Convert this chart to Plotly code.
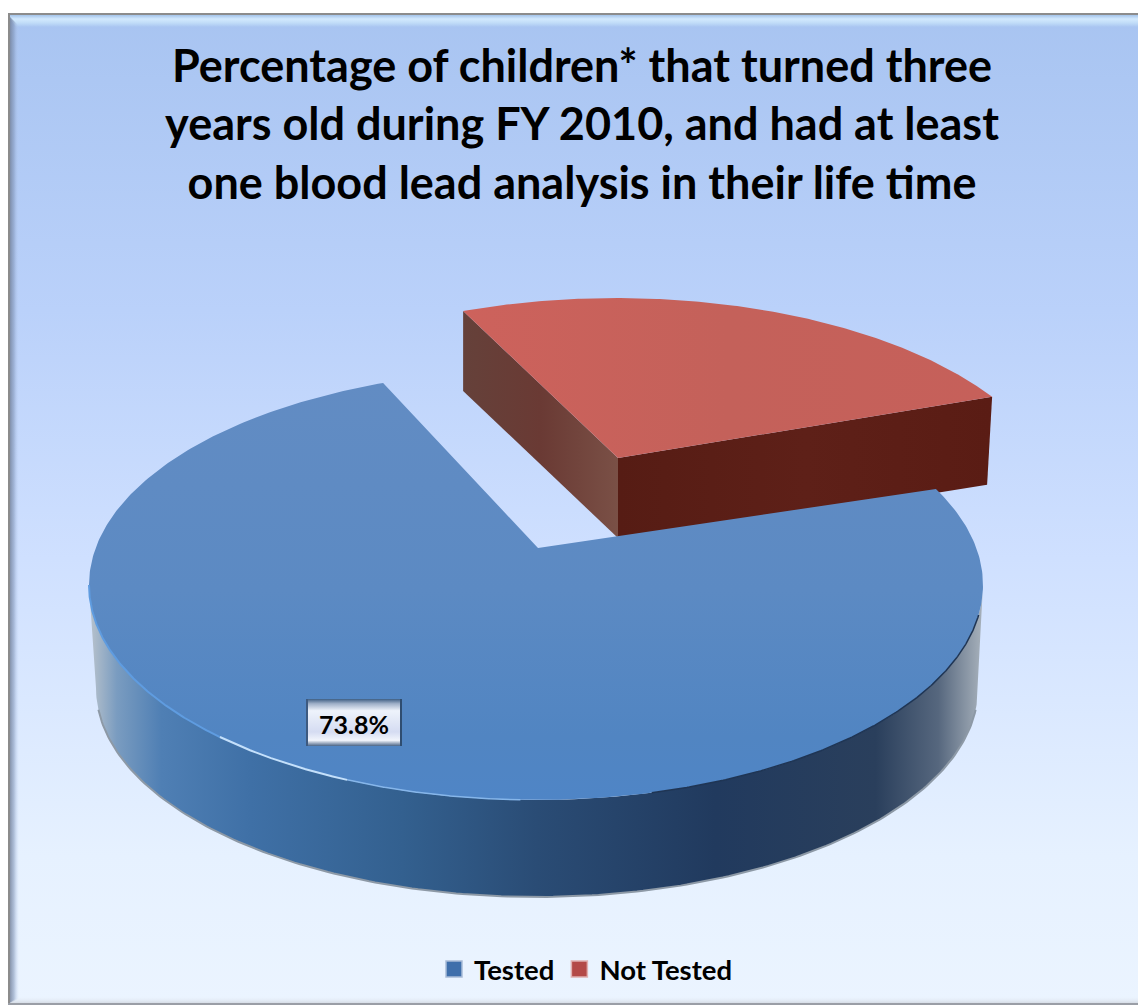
import numpy as np
import plotly.graph_objects as go

categories = ["Tested", "Not Tested"]
values = [73.8, 26.2]
title_lines = ["Percentage of children* that turned three",
               "years old during FY 2010, and had at least",
               "one blood lead analysis in their life time"]

W, H = 1146, 1005
PAGE_MARGIN = 8                     # the page's own body margin
FONT = "Lato"
START_DEG = 110.0
SWEEP_PER_PCT = [3.747, 2.95]       # the projected disc stretches each slice's sweep


def arc(cx, cy, rx, ry, a0, a1, n=200):
    t = np.radians(np.linspace(a0, a1, n))
    return cx + rx * np.cos(t), cy - ry * np.sin(t)


def grad(kind, stops, start, stop):
    n = len(stops) - 1
    cs = [[p, c] for p, c in stops] if isinstance(stops[0], (list, tuple)) else [[i / n, c] for i, c in enumerate(stops)]
    return dict(type=kind, colorscale=cs, start=start, stop=stop)


fig = go.Figure()


def poly(x, y, fillgradient=None, fillcolor=None):
    x = list(x) + [x[0]]
    y = list(y) + [y[0]]
    kw = dict(fillgradient=fillgradient) if fillgradient else dict(fillcolor=fillcolor)
    fig.add_trace(go.Scatter(x=x, y=y, mode="lines", fill="toself", line=dict(width=0),
                             hoverinfo="skip", showlegend=False, **kw))


def stroke(x, y, color, width):
    fig.add_trace(go.Scatter(x=x, y=y, mode="lines", line=dict(color=color, width=width),
                             hoverinfo="skip", showlegend=False))


# chart panel (axes start at the page margin; the frame's left/top edges lie under it)
L, T, R, B = 8, 13, W + 2, 1004
poly([L, R, R, L], [T, T, B, B],
     fillgradient=grad("vertical", [[0, "#a8c4f1"], [0.3, "#bad1fa"], [0.55, "#cfe0ff"], [0.85, "#e6f1ff"], [1, "#ebf4ff"]], T, B))
# bevels
poly([L, R, R, L + 8], [T + 2, T + 2, T + 14, T + 14],
     fillgradient=grad("vertical", ["#a4c4ea", "#d2e9fe", "#c0dcf8", "#a9c5f1"], T + 2, T + 14))
poly([L, L + 12, L + 12, L], [T + 2, T + 14, B - 6, B],
     fillgradient=grad("horizontal", ["rgba(112,124,146,0.9)", "rgba(130,150,185,0.55)", "rgba(190,210,245,0)"], L + 1, L + 11))
poly([L, R, R, L + 12], [B, B, B - 8, B - 8],
     fillgradient=grad("vertical", ["rgba(235,244,255,0)", "rgba(205,210,218,0.9)"], B - 8, B))
stroke([L, R], [T + 1, T + 1], "#8c8c8c", 2)
stroke([L + 1, L + 1], [T, B], "#8c8c8c", 2)
stroke([L, R], [B, B], "#9a9ea6", 2)

# Not Tested slice (behind)
rcx, rcy, rax, ray = 616, 513, 447, 215
r_end = START_DEG - values[1] * SWEEP_PER_PCT[1]
rapx, rapy = 618, 458
rx0, ry0 = arc(rcx, rcy, rax, ray, START_DEG, START_DEG, 1)
rx1, ry1 = arc(rcx, rcy, rax, ray, r_end, r_end, 1)
poly([rx0[0], rapx, rapx, rx0[0]], [ry0[0], rapy, rapy + 80, ry0[0] + 80],
     fillgradient=grad("horizontal", ["#65413a", "#6a3a34", "#7a5046"], rx0[0], rapx))
poly([rapx, rx1[0], rx1[0] - 5, rapx], [rapy, ry1[0], ry1[0] + 88, rapy + 86],
     fillgradient=grad("horizontal", ["#561c14", "#5e2018", "#5a1c14"], rapx, rx1[0]))
ax, ay = arc(rcx, rcy, rax, ray, START_DEG, r_end)
poly([rapx] + list(ax), [rapy] + list(ay),
     fillgradient=grad("horizontal", ["#cd625c", "#c4615a", "#c6605a"], rx0[0], rx1[0]))

# Tested slice
bcx, bcy, bax, bay = 536, 585, 447, 215
dcx, dcy, dax, day = 537, 688, 441, 209
apx, apy = 538, 548
b_end = START_DEG + values[0] * SWEEP_PER_PCT[0]
tx, ty = arc(bcx, bcy, bax, bay, 180, 360)
ux, uy = arc(dcx, dcy, dax, day, 360, 180)
poly(list(tx) + list(ux), list(ty) + list(uy),
     fillgradient=grad("horizontal",
                       [[0, "#b8c2cc"], [0.03, "#7a9cc0"], [0.08, "#4f7fb4"], [0.18, "#3f70a6"],
                        [0.35, "#33608f"], [0.5, "#2a4c75"], [0.7, "#213a5e"], [0.88, "#2a3f5c"],
                        [0.95, "#56677e"], [1, "#a8b2bc"]], 90, 983))
bx, by = arc(dcx, dcy, dax, day, 186, 354)
stroke(bx, by, "#8d99a6", 2)
ax, ay = arc(bcx, bcy, bax, bay, START_DEG, b_end, 400)
poly([apx] + list(ax), [apy] + list(ay),
     fillgradient=grad("vertical", [[0, "#628cc3"], [0.5, "#5c8ac3"], [0.85, "#5185c2"], [1, "#4f85c6"]], 380, 800))
# rim lights and shade on the front edge of the disc
hx, hy = arc(bcx, bcy, bax, bay, 180, 225)
stroke(hx, hy, "#5f9ce0", 2)
hx, hy = arc(bcx, bcy, bax, bay, 245, 268)
stroke(hx, hy, "#86b6ea", 1.5)
hx, hy = arc(bcx, bcy, bax, bay, 225, 245)
stroke(hx, hy, "#c4e0fb", 2)
hx, hy = arc(bcx, bcy, bax, bay, 285, 352)
stroke(hx, hy, "#1f3554", 1.5)

# data label box
poly([307, 401, 401, 307], [699, 699, 746, 746],
     fillgradient=grad("vertical", [[0, "#3f5f84"], [0.1, "#9fb0c8"], [0.25, "#eef3fb"], [0.7, "#d5dcf2"],
                                    [0.88, "#f2f5fc"], [1, "#4a6486"]], 699, 746))
stroke([307, 307], [699, 746], "#3d5a80", 2)
stroke([401, 401], [699, 746], "#2f4d70", 2)

# legend entries
for name, col, edge in zip(categories, ["#3f6fab", "#b34a48"], ["#a9bcd8", "#e0b0b0"]):
    fig.add_trace(go.Scatter(x=[None], y=[None], mode="markers", name=name,
                             marker=dict(symbol="square", size=17, color=col, line=dict(color=edge, width=1.5))))

fig.add_annotation(x=354, y=724, xref="x", yref="y", text=f"<b>{values[0]:.1f}%</b>", showarrow=False,
                   font=dict(family=FONT, size=25, color="#000000"))

FW, FH = W - PAGE_MARGIN, H - PAGE_MARGIN
fig.update_layout(
    width=FW, height=FH,
    autosize=False,
    margin=dict(l=0, r=0, t=0, b=0),
    paper_bgcolor="#ffffff",
    plot_bgcolor="#ffffff",
    xaxis=dict(range=[PAGE_MARGIN, W], visible=False, fixedrange=True),
    yaxis=dict(range=[H, PAGE_MARGIN], visible=False, fixedrange=True),
    title=dict(text="<b>" + "<br>".join(title_lines) + "</b>", x=(582 - PAGE_MARGIN) / FW, xanchor="center",
               y=0.926, yanchor="top", font=dict(family=FONT, size=45, color="#000000")),
    legend=dict(orientation="h", x=(586 - PAGE_MARGIN) / FW, xanchor="center", y=(H - 969) / FH, yanchor="middle",
                bgcolor="rgba(0,0,0,0)", font=dict(family=FONT, size=27.5, color="#000000", weight="bold"),
                itemclick=False, itemdoubleclick=False, itemwidth=30),
    showlegend=True,
)
fig.write_html("out.html", config=dict(displayModeBar=False))
